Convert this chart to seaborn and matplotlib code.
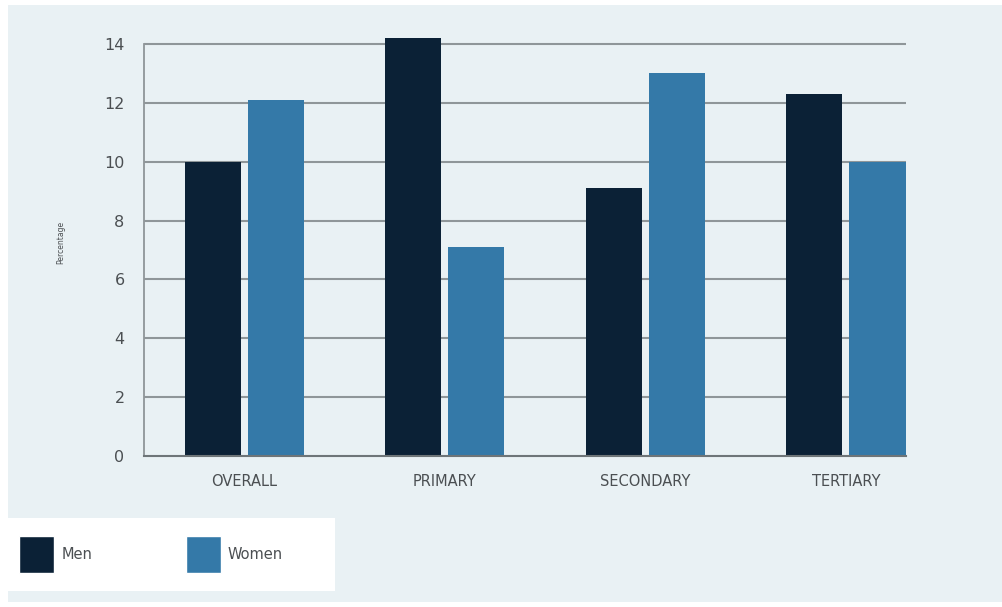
import pandas as pd
import matplotlib
matplotlib.use("Agg")
import matplotlib.pyplot as plt
import seaborn as sns
from matplotlib.patches import Rectangle, Patch

# dados
levels = ["OVERALL", "PRIMARY", "SECONDARY", "TERTIARY"]
men = [10.0, 14.2, 9.1, 12.3]
women = [12.1, 7.1, 13.0, 10.0]
yticks = [0, 2, 4, 6, 8, 10, 12, 14]

col_men = "#0b2136"
col_women = "#3479a8"
bg = "#e9f1f4"
grid_col = "#8f9699"
txt_col = "#4b4f52"

df = pd.DataFrame({
    "level": levels * 2,
    "value": men + women,
    "sex": ["Men"] * len(levels) + ["Women"] * len(levels),
})

sns.set_theme(style="white")
plt.rcParams["font.family"] = ["DejaVu Sans"]

fig = plt.figure(figsize=(10.02, 6.07), dpi=100, facecolor="white")
W, H = 1002, 607

# fundo azul claro
fig.patches.append(Rectangle((8 / W, 1 - 602 / H), 1 - 8 / W, (602 - 5) / H,
                             transform=fig.transFigure, facecolor=bg,
                             edgecolor="none", zorder=-10))
# caixa branca da legenda
fig.patches.append(Rectangle((8 / W, 1 - 591 / H), (335 - 8) / W, (591 - 518) / H,
                             transform=fig.transFigure, facecolor="white",
                             edgecolor="none", zorder=-5))

y0, y14 = 456, 44
unit = (y0 - y14) / 14
ytop = y0 - 14.5 * unit
ax = fig.add_axes([144 / W, 1 - y0 / H, (906 - 144) / W, (y0 - ytop) / H])
ax.set_facecolor("none")

sns.barplot(data=df, x="level", y="value", hue="sex", order=levels,
            palette={"Men": col_men, "Women": col_women}, width=0.63, gap=0.11,
            saturation=1, legend=False, ax=ax, zorder=3, linewidth=0)

ax.set_xlim(-0.5, 3.3)
ax.set_ylim(0, 14.5)
ax.set_yticks(yticks)
ax.set_yticklabels([str(t) for t in yticks], fontsize=11.5, color=txt_col)
ax.tick_params(axis="y", length=0, pad=14)
ax.tick_params(axis="x", length=0, pad=13, labelsize=10.5, labelcolor=txt_col)
ax.set_xlabel("")
ax.set_ylabel("Percentage", fontsize=5.5, color=txt_col, labelpad=28)

for t in yticks[1:]:
    ax.axhline(t, color=grid_col, lw=1.5, zorder=1)

for s in ["top", "right"]:
    ax.spines[s].set_visible(False)
ax.spines["left"].set_bounds(0, 14)
ax.spines["left"].set_color(grid_col)
ax.spines["left"].set_linewidth(1.3)
ax.spines["bottom"].set_color("#6e7578")
ax.spines["bottom"].set_linewidth(1.5)
ax.spines["bottom"].set_zorder(4)

handles = [Patch(facecolor=col_men, label="Men"), Patch(facecolor=col_women, label="Women")]
fig.legend(handles=handles, loc="center left", ncol=2, frameon=False,
           bbox_to_anchor=(19 / W, 1 - 554.5 / H), bbox_transform=fig.transFigure,
           borderpad=0, borderaxespad=0, fontsize=10.5, labelcolor=txt_col,
           handlelength=2.4, handleheight=3.6, handletextpad=0.5, columnspacing=6.4)

fig.savefig("out.png", dpi=100, facecolor="white")
